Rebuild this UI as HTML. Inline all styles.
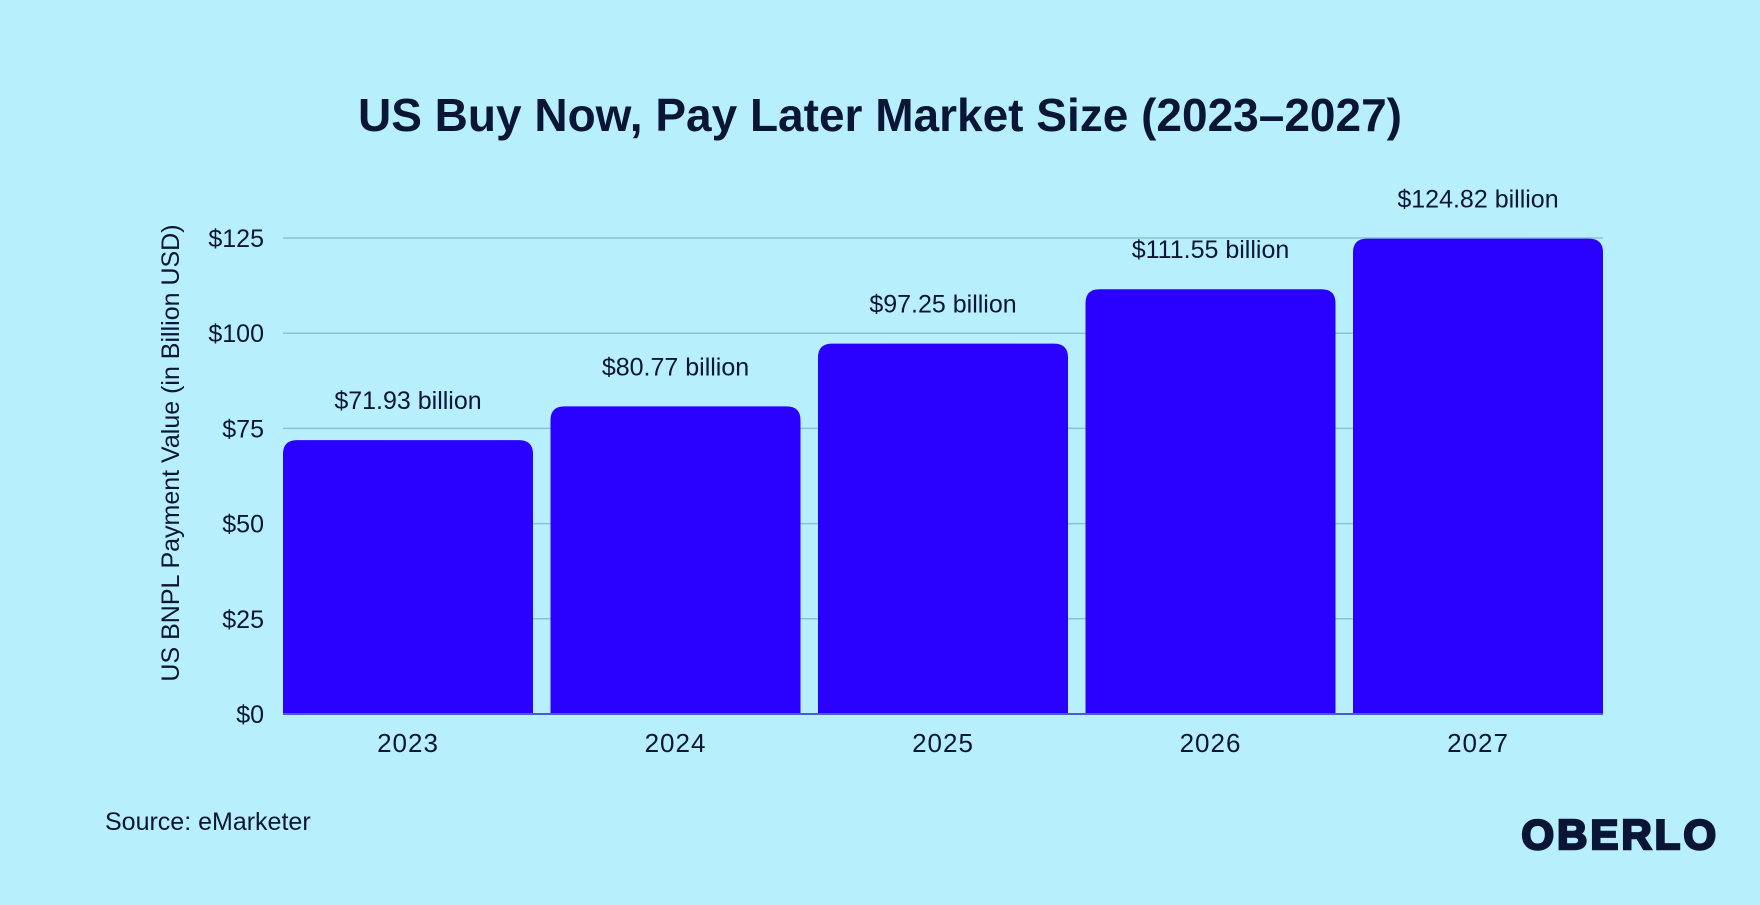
<!DOCTYPE html>
<html><head><meta charset="utf-8"><style>
body{margin:0;width:1760px;height:900px;background:#b7effd;overflow:hidden;font-family:"Liberation Sans",sans-serif;color:#0b1535}
svg text{font-family:"Liberation Sans",sans-serif;fill:#0b1535}
</style></head><body>
<svg width="1760" height="900">
<text x="880" y="131" text-anchor="middle" font-size="46" font-weight="bold">US Buy Now, Pay Later Market Size (2023–2027)</text>
<g id="grid"></g><g id="bars"></g><g id="labels"></g>
<text transform="translate(179,453) rotate(-90)" text-anchor="middle" font-size="25">US BNPL Payment Value (in Billion USD)</text>
<text x="105" y="830" font-size="25">Source: eMarketer</text>
<text x="1719" y="849" text-anchor="end" font-size="42" font-weight="900" stroke="#0b1535" stroke-width="2.5" style="letter-spacing:3px">OBERLO</text>
</svg>
<script>
const categories=["2023","2024","2025","2026","2027"];
const values=[71.93,80.77,97.25,111.55,124.82];
const valueLabels=["$71.93 billion","$80.77 billion","$97.25 billion","$111.55 billion","$124.82 billion"];
const ticks=[0,25,50,75,100,125];
const tickLabels=["$0","$25","$50","$75","$100","$125"];
const L=283,R=1603,Y0=714,Y125=238,NS="http://www.w3.org/2000/svg";
const y=v=>Y0-(v/125)*(Y0-Y125);
const gap=17.5,bw=(R-L-gap*(categories.length-1))/categories.length;
const x=i=>L+i*(bw+gap);
function mk(t,a,p){const e=document.createElementNS(NS,t);for(const k in a)e.setAttribute(k,a[k]);p.appendChild(e);return e;}
const g=document.getElementById('grid'),b=document.getElementById('bars'),lb=document.getElementById('labels');
ticks.forEach((t,i)=>{
 if(t>0){const ln=mk('line',{x1:L,x2:R,y1:y(t),y2:y(t),stroke:'#8ac3d6','stroke-width':1.5},g);
 
 }
 const tx=mk('text',{x:264,y:y(t)+9,'text-anchor':'end','font-size':25},g);tx.textContent=tickLabels[i];
 
 
});
values.forEach((v,i)=>{
 const x0=x(i),x1=x0+bw,yt=y(v),r=14;
 const p=mk('path',{d:`M${x0},${Y0}V${yt+r}Q${x0},${yt} ${x0+r},${yt}H${x1-r}Q${x1},${yt} ${x1},${yt+r}V${Y0}Z`,fill:'#2a00ff'},b);
 
 
 const t=mk('text',{x:x0+bw/2,y:yt-31,'text-anchor':'middle','font-size':25},lb);t.textContent=valueLabels[i];
 
 
 const c=mk('text',{x:x0+bw/2,y:752,'text-anchor':'middle','font-size':26,'letter-spacing':'1'},lb);c.textContent=categories[i];
 
 
});
const ax=mk('line',{x1:L,x2:R,y1:Y0,y2:Y0,stroke:'#4a5bd0','stroke-width':2},lb);


</script>
</body></html>
